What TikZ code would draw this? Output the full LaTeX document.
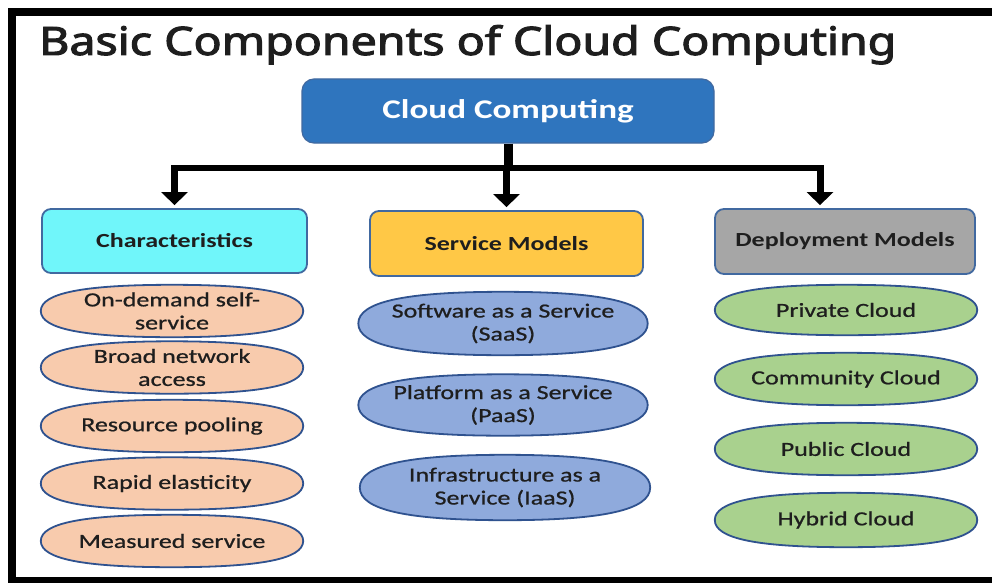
\documentclass[tikz,border=0pt]{standalone}
\usepackage{fontspec}
\usepackage{graphicx}
\setmainfont{Carlito}
\newfontfamily\wide[FakeStretch=1.3]{Carlito}
\newfontfamily\widemed[FakeStretch=1.3,FakeBold=0.8]{Carlito}
\newfontfamily\titlefont[FakeBold=2.5]{Noto Sans}
\usetikzlibrary{arrows.meta,shapes.geometric,calc,backgrounds}
\definecolor{cloudblue}{RGB}{47,117,190}
\definecolor{edgeblue}{RGB}{65,105,160}
\definecolor{ellipseedge}{RGB}{47,82,143}
\definecolor{cyanfill}{RGB}{112,246,250}
\definecolor{goldfill}{RGB}{255,200,70}
\definecolor{grayfill}{RGB}{166,166,166}
\definecolor{peach}{RGB}{248,203,173}
\definecolor{lightblue}{RGB}{143,170,220}
\definecolor{lightgreen}{RGB}{169,209,142}
\definecolor{ink}{RGB}{30,30,30}
\tikzset{
  headbox/.style={draw=edgeblue, line width=1.8pt, rounded corners=9pt, inner sep=0pt,
    font=\wide\bfseries\fontsize{20}{23}\selectfont, text=ink},
  pilltext/.style={font=\widemed\fontsize{20}{23}\selectfont, text=ink, align=center, inner sep=0pt},
  pilledge/.style={draw=ellipseedge, line width=1.8pt},
  arr/.style={line width=7pt, -{Triangle[width=26pt,length=13pt]}},
}
% superellipse outline drawn behind a named node
\newcommand\blob[2]{%
  \begin{pgfonlayer}{background}
  \draw[pilledge, fill=#2] (#1.west)
    .. controls ($(#1.west)!0.68!(#1.north west)$) and ($(#1.north)!0.68!(#1.north west)$) .. (#1.north)
    .. controls ($(#1.north)!0.68!(#1.north east)$) and ($(#1.east)!0.68!(#1.north east)$) .. (#1.east)
    .. controls ($(#1.east)!0.68!(#1.south east)$) and ($(#1.south)!0.68!(#1.south east)$) .. (#1.south)
    .. controls ($(#1.south)!0.68!(#1.south west)$) and ($(#1.west)!0.68!(#1.south west)$) .. (#1.west) -- cycle;
  \end{pgfonlayer}}
\begin{document}
\begin{tikzpicture}[x=1pt,y=-1pt]
\useasboundingbox (0,0) rectangle (992,583);
\begin{pgfonlayer}{background}
\fill[white] (0,0) rectangle (992,583);
\end{pgfonlayer}
% frame
\fill[black] (8,8) rectangle (992,16);
\fill[black] (8,8) rectangle (16,583);
\fill[black] (8,577) rectangle (992,583);
% title
\node[anchor=base west, inner sep=0pt, text=ink] (title) at (39,55)
  {\resizebox{857pt}{30pt}{\titlefont Basic Components of Cloud Computing}};
% top box
\node[draw=edgeblue, line width=1.2pt, fill=cloudblue, rounded corners=12pt, minimum width=412pt, minimum height=64pt,
  inner sep=0pt, text=white, font=\wide\bfseries\fontsize{27}{30}\selectfont] (cc) at (508,111) {Cloud Computing};
% category boxes
\node[headbox, fill=cyanfill, minimum width=265pt, minimum height=64pt] (char) at (174.5,241) {Characteristics};
\node[headbox, fill=goldfill, minimum width=273pt, minimum height=65pt] (serv) at (506.5,243.5) {Service Models};
\node[headbox, fill=grayfill, minimum width=260pt, minimum height=65pt] (dep) at (845,241.5) {Deployment Models};
% connectors
\coordinate (bus) at (0,168);
\coordinate (depin) at (820,168);
\draw[line width=9pt] (cc.south) -- (cc.south |- bus);
\draw[line width=6pt] ($(char.north |- bus)+(-3.5,0)$) -- ($(depin)+(3.5,0)$);
\draw[arr] (char.north |- bus) -- ($(char.north)+(0,-3)$);
\draw[arr] (serv.north |- bus) -- ($(serv.north)+(0,-3)$);
\draw[arr] (depin) -- ($(depin |- dep.north)+(0,-3)$);
% characteristics
\node[pilltext, minimum width=262pt, minimum height=52pt] (c1) at (172,311) {On-demand self-\\service};
\blob{c1}{peach}
\node[pilltext, minimum width=262pt, minimum height=52pt] (c2) at (172,367.5) {Broad network\\access};
\blob{c2}{peach}
\node[pilltext, minimum width=262pt, minimum height=52pt] (c3) at (172,426) {Resource pooling};
\blob{c3}{peach}
\node[pilltext, minimum width=262pt, minimum height=52pt] (c4) at (172,483.5) {Rapid elasticity};
\blob{c4}{peach}
\node[pilltext, minimum width=262pt, minimum height=52pt] (c5) at (172,541) {Measured service};
\blob{c5}{peach}
% service models
\node[pilltext, minimum width=289pt, minimum height=63pt] (s1) at (503,323.5) {Software as a Service\\(SaaS)};
\blob{s1}{lightblue}
\node[pilltext, minimum width=289pt, minimum height=61pt] (s2) at (503,405) {Platform as a Service\\(PaaS)};
\blob{s2}{lightblue}
\node[pilltext, minimum width=290pt, minimum height=65pt] (s3) at (505,487.5) {Infrastructure as a\\Service (IaaS)};
\blob{s3}{lightblue}
% deployment models
\node[pilltext, minimum width=262pt, minimum height=50pt] (d1) at (846,310) {Private Cloud};
\blob{d1}{lightgreen}
\node[pilltext, minimum width=262pt, minimum height=52pt] (d2) at (846,379) {Community Cloud};
\blob{d2}{lightgreen}
\node[pilltext, minimum width=262pt, minimum height=52pt] (d3) at (846,449) {Public Cloud};
\blob{d3}{lightgreen}
\node[pilltext, minimum width=262pt, minimum height=54pt] (d4) at (846,520) {Hybrid Cloud};
\blob{d4}{lightgreen}
\end{tikzpicture}
\end{document}
